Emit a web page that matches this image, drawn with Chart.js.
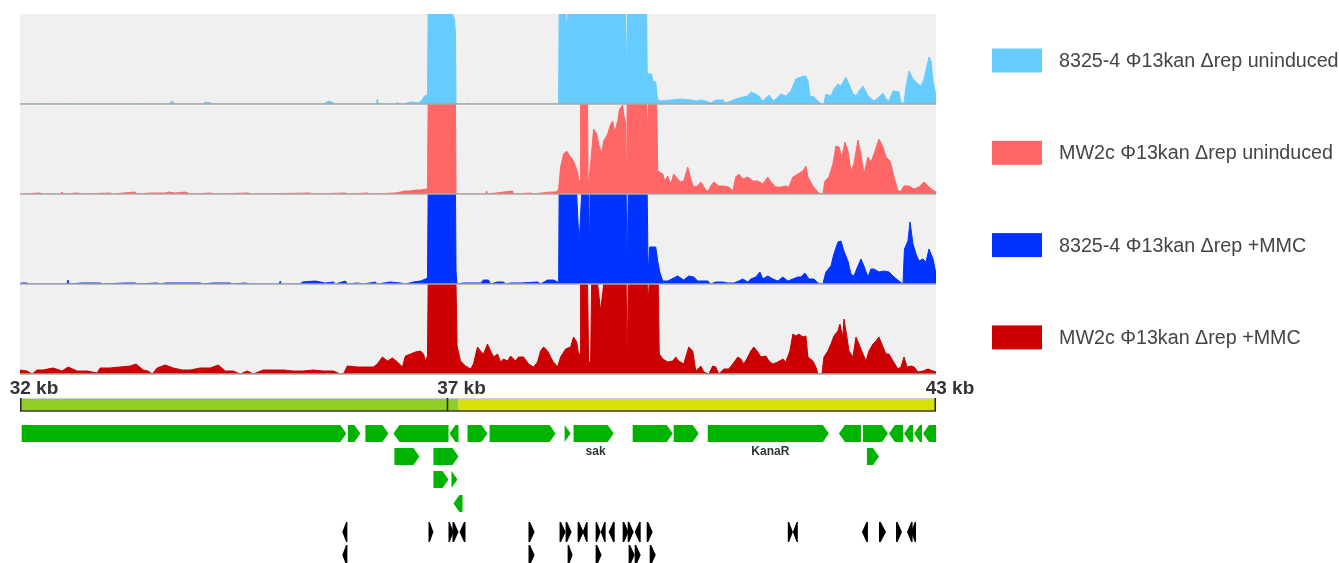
<!DOCTYPE html>
<html>
<head>
<meta charset="utf-8">
<title>Φ13kan Δrep read coverage, 32–43 kb</title>
<script src="https://cdn.jsdelivr.net/npm/chart.js@4.4.1/dist/chart.umd.min.js"></script>
<style>
  html, body { margin: 0; padding: 0; background: #ffffff; }
  #wrap { width: 1339px; height: 563px; }
</style>
</head>
<body>
<div id="wrap"><canvas id="chart" width="1339" height="563"></canvas></div>
<script>
// ---------- region shown (kb) ----------
const viewStartKb = 32;
const viewEndKb = 42.714;
const rulerTicksKb = [32, 37, 42.714];
const rulerSegmentsKb = [[32, 37.13], [37.13, 42.714]];
const rulerColors = ['#92cc26', '#d8e20a'];

// ---------- coverage tracks ----------
const trackLabels = [
  '8325-4 Φ13kan Δrep uninduced',
  'MW2c Φ13kan Δrep uninduced',
  '8325-4 Φ13kan Δrep +MMC',
  'MW2c Φ13kan Δrep +MMC'
];
const trackColors = ['#66ccff', '#ff6666', '#0033ff', '#cc0000'];
const trackMax = 90; // display ceiling of each track; deeper coverage is clipped

// 8325-4 uninduced
const t1Kb = [32.000, 32.281, 32.293, 32.304, 32.562, 32.574, 32.585, 33.358, 33.370, 33.382,
  33.756, 33.768, 33.792, 33.815, 34.143, 34.166, 34.225, 34.248, 35.560, 35.583,
  35.618, 35.665, 35.689, 36.169, 36.180, 36.192, 36.403, 36.415, 36.438, 36.497,
  36.520, 36.590, 36.660, 36.695, 36.731, 36.766, 36.774, 37.059, 37.082, 37.094,
  37.100, 37.222, 37.234, 37.246, 38.300, 38.306, 38.382, 38.393, 38.405, 39.084,
  39.096, 39.108, 39.330, 39.336, 39.389, 39.400, 39.436, 39.456, 39.494, 39.611,
  39.728, 39.845, 39.927, 39.963, 40.021, 40.080, 40.138, 40.220, 40.255, 40.314,
  40.372, 40.454, 40.513, 40.548, 40.607, 40.642, 40.689, 40.759, 40.817, 40.899,
  40.958, 41.016, 41.075, 41.133, 41.192, 41.216, 41.239, 41.286, 41.344, 41.380,
  41.403, 41.426, 41.485, 41.520, 41.567, 41.602, 41.660, 41.696, 41.743, 41.778,
  41.813, 41.860, 41.895, 41.930, 41.989, 42.047, 42.094, 42.129, 42.164, 42.211,
  42.281, 42.304, 42.340, 42.363, 42.398, 42.445, 42.504, 42.539, 42.574, 42.632,
  42.656, 42.679, 42.714];
const t1Cov = [0, 0, 1, 0, 0, 1, 0, 0, 1, 0,
  0, 3, 2, 0, 0, 2, 1, 0, 0, 2,
  3, 1, 0, 0, 5, 0, 0, 2, 0, 0,
  1, 2, 1, 3, 8, 9, 150, 150, 85, 70,
  0, 0, 1, 0, 0, 150, 150, 78, 150, 150,
  27, 150, 150, 30, 30, 23, 22, 5, 3, 4,
  5, 4, 3, 4, 3, 1, 4, 4, 1, 3,
  5, 7, 8, 12, 10, 8, 3, 9, 3, 10,
  8, 13, 25, 27, 28, 23, 8, 7, 2, 0,
  0, 10, 8, 15, 20, 18, 27, 20, 10, 8,
  13, 18, 12, 7, 3, 7, 11, 5, 3, 13,
  12, 1, 1, 17, 33, 25, 20, 18, 25, 47,
  43, 23, 8];

// MW2c uninduced
const t2Kb = [32.000, 32.234, 32.258, 32.468, 32.492, 32.515, 32.679, 32.703, 33.054, 33.077,
  33.347, 33.370, 33.522, 33.698, 33.733, 33.815, 33.932, 33.991, 34.225, 34.283,
  34.670, 34.693, 35.396, 35.419, 35.806, 35.829, 36.063, 36.087, 36.391, 36.450,
  36.497, 36.567, 36.625, 36.684, 36.743, 36.766, 36.774, 37.094, 37.100, 37.445,
  37.457, 37.468, 37.761, 37.773, 37.984, 37.995, 38.206, 38.276, 38.300, 38.323,
  38.358, 38.393, 38.440, 38.475, 38.522, 38.534, 38.552, 38.557, 38.639, 38.645,
  38.674, 38.709, 38.745, 38.768, 38.803, 38.827, 38.874, 38.909, 38.932, 38.956,
  38.991, 39.014, 39.049, 39.061, 39.084, 39.096, 39.102, 39.330, 39.342, 39.354,
  39.447, 39.459, 39.518, 39.541, 39.576, 39.611, 39.646, 39.693, 39.728, 39.764,
  39.810, 39.845, 39.880, 39.927, 39.963, 39.998, 40.044, 40.080, 40.115, 40.173,
  40.232, 40.290, 40.337, 40.372, 40.407, 40.454, 40.513, 40.571, 40.630, 40.689,
  40.747, 40.782, 40.841, 40.899, 40.958, 40.993, 41.040, 41.098, 41.157, 41.192,
  41.216, 41.274, 41.321, 41.356, 41.391, 41.415, 41.461, 41.508, 41.543, 41.578,
  41.614, 41.649, 41.684, 41.719, 41.754, 41.801, 41.836, 41.871, 41.918, 41.953,
  41.989, 42.047, 42.094, 42.129, 42.176, 42.223, 42.269, 42.304, 42.340, 42.398,
  42.457, 42.515, 42.574, 42.632, 42.691, 42.714];
const t2Cov = [0, 1, 0, 0, 2, 0, 1, 0, 1, 0,
  2, 0, 1, 1, 2, 1, 2, 0, 1, 0,
  1, 0, 1, 0, 1, 0, 1, 0, 1, 2,
  3, 3, 4, 4, 5, 5, 150, 150, 0, 0,
  3, 0, 3, 0, 1, 0, 2, 2, 5, 27,
  40, 43, 37, 33, 22, 13, 13, 150, 150, 7,
  30, 65, 60, 50, 40, 53, 60, 70, 73, 62,
  73, 85, 89, 80, 70, 0, 150, 150, 60, 150,
  150, 23, 20, 13, 18, 10, 20, 15, 12, 13,
  27, 15, 7, 8, 12, 7, 2, 8, 12, 8,
  8, 7, 3, 17, 20, 15, 17, 13, 13, 10,
  17, 12, 7, 7, 8, 7, 17, 20, 23, 28,
  17, 8, 3, 0, 0, 13, 17, 30, 48, 47,
  37, 52, 43, 23, 30, 54, 40, 20, 37, 32,
  40, 55, 47, 37, 33, 17, 3, 3, 8, 8,
  5, 7, 12, 7, 3, 2];

// 8325-4 +MMC
const t3Kb = [32.000, 32.012, 32.082, 32.094, 32.550, 32.562, 32.574, 32.726, 32.937, 32.960,
  33.230, 33.347, 33.370, 33.604, 33.639, 33.698, 34.108, 34.131, 34.260, 34.459,
  34.482, 34.635, 34.693, 35.033, 35.044, 35.056, 35.279, 35.302, 35.454, 35.571,
  35.665, 35.689, 35.806, 35.829, 35.946, 36.016, 36.157, 36.180, 36.333, 36.450,
  36.508, 36.602, 36.684, 36.743, 36.766, 36.774, 37.094, 37.100, 37.112, 37.187,
  37.386, 37.422, 37.480, 37.504, 37.585, 37.656, 37.679, 37.738, 37.820, 37.855,
  38.054, 38.089, 38.171, 38.241, 38.288, 38.300, 38.306, 38.511, 38.540, 38.569,
  38.651, 38.659, 38.667, 39.090, 39.102, 39.114, 39.336, 39.347, 39.365, 39.436,
  39.459, 39.483, 39.518, 39.576, 39.693, 39.764, 39.822, 39.880, 39.927, 39.963,
  40.044, 40.080, 40.138, 40.220, 40.279, 40.349, 40.407, 40.454, 40.513, 40.548,
  40.607, 40.654, 40.689, 40.747, 40.806, 40.864, 40.923, 40.981, 41.040, 41.098,
  41.133, 41.180, 41.227, 41.286, 41.333, 41.368, 41.391, 41.426, 41.485, 41.520,
  41.567, 41.602, 41.637, 41.684, 41.719, 41.754, 41.801, 41.836, 41.871, 41.918,
  41.953, 41.989, 42.047, 42.106, 42.164, 42.223, 42.281, 42.328, 42.345, 42.386,
  42.410, 42.445, 42.480, 42.515, 42.562, 42.597, 42.632, 42.679, 42.714];
const t3Cov = [0, 1, 1, 0, 0, 4, 0, 1, 1, 0,
  1, 1, 0, 1, 0, 1, 1, 0, 1, 1,
  0, 1, 0, 0, 3, 0, 0, 2, 3, 1,
  2, 0, 3, 0, 1, 0, 2, 0, 2, 1,
  0, 2, 3, 5, 6, 150, 150, 13, 0, 1,
  1, 4, 4, 0, 2, 2, 0, 1, 1, 1,
  2, 0, 4, 4, 2, 3, 150, 150, 40, 150,
  150, 55, 150, 150, 14, 150, 150, 10, 37, 37,
  23, 12, 3, 3, 8, 4, 8, 7, 3, 3,
  3, 0, 2, 2, 1, 1, 3, 5, 2, 5,
  7, 12, 5, 8, 5, 3, 7, 3, 5, 7,
  7, 11, 5, 5, 1, 0, 0, 12, 18, 30,
  42, 43, 33, 23, 10, 8, 18, 25, 18, 7,
  15, 15, 12, 13, 12, 7, 3, 0, 35, 43,
  62, 40, 30, 23, 25, 22, 35, 25, 10];

// MW2c +MMC
const t4Kb = [32.000, 32.082, 32.141, 32.199, 32.269, 32.386, 32.492, 32.562, 32.667, 32.785,
  32.902, 32.937, 33.054, 33.171, 33.288, 33.358, 33.440, 33.499, 33.546, 33.604,
  33.698, 33.792, 33.897, 33.991, 34.108, 34.225, 34.319, 34.400, 34.494, 34.576,
  34.658, 34.728, 34.845, 34.963, 35.080, 35.197, 35.314, 35.431, 35.548, 35.665,
  35.747, 35.782, 35.829, 35.946, 36.040, 36.133, 36.180, 36.239, 36.297, 36.356,
  36.415, 36.473, 36.508, 36.567, 36.625, 36.684, 36.719, 36.743, 36.766, 36.774,
  37.100, 37.112, 37.152, 37.211, 37.269, 37.304, 37.351, 37.386, 37.422, 37.468,
  37.504, 37.539, 37.585, 37.621, 37.656, 37.703, 37.738, 37.796, 37.831, 37.890,
  37.948, 38.007, 38.054, 38.089, 38.124, 38.171, 38.230, 38.288, 38.323, 38.382,
  38.440, 38.475, 38.511, 38.534, 38.552, 38.557, 38.639, 38.651, 38.674, 38.686,
  38.756, 38.792, 38.827, 39.090, 39.102, 39.114, 39.336, 39.347, 39.359, 39.465,
  39.477, 39.518, 39.576, 39.635, 39.670, 39.705, 39.764, 39.822, 39.869, 39.904,
  39.963, 39.998, 40.056, 40.103, 40.138, 40.173, 40.232, 40.290, 40.337, 40.396,
  40.431, 40.466, 40.513, 40.548, 40.583, 40.630, 40.665, 40.724, 40.759, 40.806,
  40.864, 40.923, 40.958, 41.005, 41.040, 41.075, 41.110, 41.157, 41.192, 41.216,
  41.274, 41.309, 41.333, 41.380, 41.403, 41.450, 41.485, 41.520, 41.567, 41.590,
  41.625, 41.637, 41.672, 41.696, 41.743, 41.778, 41.813, 41.860, 41.895, 41.930,
  41.977, 42.012, 42.047, 42.094, 42.129, 42.164, 42.211, 42.269, 42.304, 42.340,
  42.375, 42.422, 42.457, 42.504, 42.562, 42.621, 42.679, 42.714];
const t4Cov = [4, 3, 0, 4, 4, 6, 3, 7, 3, 3,
  1, 6, 6, 7, 8, 10, 4, 3, 0, 6,
  9, 6, 4, 4, 6, 6, 9, 3, 3, 0,
  3, 0, 4, 4, 4, 3, 3, 4, 3, 3,
  0, 0, 8, 7, 7, 7, 10, 17, 13, 16,
  12, 7, 18, 20, 22, 23, 20, 13, 18, 150,
  150, 28, 13, 8, 5, 10, 27, 23, 20, 30,
  23, 17, 20, 12, 15, 13, 18, 13, 17, 17,
  10, 7, 12, 23, 27, 23, 13, 7, 17, 25,
  27, 37, 32, 20, 20, 150, 150, 12, 12, 150,
  150, 63, 150, 150, 10, 150, 150, 72, 150, 150,
  20, 15, 12, 13, 17, 13, 10, 27, 23, 3,
  8, 2, 0, 8, 7, 0, 5, 5, 10, 17,
  15, 10, 17, 23, 27, 22, 17, 18, 13, 10,
  12, 15, 12, 23, 40, 38, 40, 37, 38, 17,
  13, 7, 0, 0, 17, 23, 30, 38, 43, 50,
  37, 55, 37, 23, 17, 37, 30, 20, 13, 23,
  30, 33, 37, 27, 20, 20, 13, 5, 7, 17,
  7, 8, 7, 2, 3, 5, 3, 2];

// ---------- gene annotations (kb) ----------
const geneStart = [32.020, 35.835, 36.040, 36.368, 37.023, 37.234, 37.492, 38.370, 38.475, 39.166,
  39.646, 40.044, 41.578, 41.860, 42.164, 42.340, 42.457, 42.562,
  36.379, 36.836, 41.906, 36.836, 37.047, 37.070];
const geneEnd = [35.817, 35.981, 36.309, 37.012, 37.129, 37.468, 38.265, 38.440, 38.944, 39.635,
  39.939, 41.461, 41.836, 42.152, 42.328, 42.445, 42.550, 42.714,
  36.672, 37.129, 42.047, 37.012, 37.117, 37.176];
const geneStrand = ['+', '+', '+', '-', '-', '+', '+', '+', '+', '+',
  '+', '+', '-', '+', '-', '-', '-', '-',
  '+', '+', '+', '+', '+', '-'];
const geneRow = [0, 0, 0, 0, 0, 0, 0, 0, 0, 0, 0, 0, 0, 0, 0, 0, 0, 0, 1, 1, 1, 2, 2, 3];
const geneName = ['', '', '', '', '', '', '', '', 'sak', '',
  '', 'KanaR', '', '', '', '', '', '',
  '', '', '', '', '', ''];

// ---------- short ORF features (kb) ----------
const orfStart = [35.770, 36.778, 37.012, 37.059, 37.141, 37.948, 38.311, 38.382, 38.522, 38.581,
  38.733, 38.792, 38.885, 39.049, 39.108, 39.190, 39.330, 40.981, 41.040, 41.848,
  42.047, 42.246, 42.375, 42.422,
  35.770, 37.948, 38.405, 38.733, 39.119, 39.190, 39.365];
const orfEnd = [35.829, 36.836, 37.070, 37.129, 37.211, 38.019, 38.382, 38.452, 38.593, 38.639,
  38.792, 38.850, 38.956, 39.119, 39.178, 39.260, 39.400, 41.040, 41.098, 41.918,
  42.129, 42.316, 42.440, 42.480,
  35.829, 38.019, 38.464, 38.803, 39.190, 39.260, 39.436];
const orfStrand = ['-', '+', '+', '+', '-', '+', '+', '+', '+', '-',
  '+', '-', '-', '+', '+', '-', '+', '+', '-', '-',
  '+', '+', '-', '-',
  '-', '+', '+', '+', '+', '+', '+'];
const orfRow = [0, 0, 0, 0, 0, 0, 0, 0, 0, 0, 0, 0, 0, 0, 0, 0, 0, 0, 0, 0, 0, 0, 0, 0,
  1, 1, 1, 1, 1, 1, 1];

// ---------- chart construction ----------
const FONT = "'Liberation Sans', Arial, Helvetica, sans-serif";
Chart.defaults.font.family = FONT;

const trackAxes = ['yT1', 'yT2', 'yT3', 'yT4'];
const trackKb = [t1Kb, t2Kb, t3Kb, t4Kb];
const trackCov = [t1Cov, t2Cov, t3Cov, t4Cov];

const datasets = trackLabels.map((label, i) => ({
  label,
  data: trackKb[i].map((x, j) => ({ x, y: Math.min(trackCov[i][j], trackMax) })),
  yAxisID: trackAxes[i],
  borderColor: trackColors[i],
  backgroundColor: trackColors[i],
  borderWidth: 1,
  fill: 'origin',
  pointRadius: 0,
  pointHoverRadius: 0,
  tension: 0
}));

const scales = {
  x: {
    type: 'linear',
    min: viewStartKb,
    max: viewEndKb,
    position: 'bottom',
    afterBuildTicks: s => { s.ticks = rulerTicksKb.map(v => ({ value: v })); },
    afterFit: s => { s.height = 26; s.paddingLeft = 0; s.paddingRight = 0; },
    grid: { display: false, drawTicks: false },
    border: { display: false },
    ticks: {
      autoSkip: false, maxRotation: 0, minRotation: 0,
      padding: 3, labelOffset: 14,
      color: '#333333',
      font: { family: FONT, size: 19, weight: 'bold' },
      callback: v => Math.round(v) + ' kb'
    }
  }
};
trackAxes.forEach((id, i) => {
  scales[id] = {
    type: 'linear', position: 'left', stack: 'tracks', stackWeight: 1,
    weight: trackAxes.length - i, min: 0, max: trackMax, display: false
  };
});

function arrowPath(ctx, x0, x1, top, h, strand, head) {
  const mid = top + h / 2, bot = top + h;
  const hl = Math.min(head, x1 - x0);
  ctx.beginPath();
  if (strand === '+') {
    ctx.moveTo(x0, top); ctx.lineTo(x1 - hl, top); ctx.lineTo(x1, mid);
    ctx.lineTo(x1 - hl, bot); ctx.lineTo(x0, bot);
  } else {
    ctx.moveTo(x1, top); ctx.lineTo(x0 + hl, top); ctx.lineTo(x0, mid);
    ctx.lineTo(x0 + hl, bot); ctx.lineTo(x1, bot);
  }
  ctx.closePath();
}

// grey panels behind each coverage track and their baselines
const panelPlugin = {
  id: 'panels',
  beforeDatasetsDraw(chart) {
    const { ctx, chartArea } = chart;
    ctx.save();
    ctx.fillStyle = '#f0f0f0';
    trackAxes.forEach(id => {
      const s = chart.scales[id];
      ctx.fillRect(chartArea.left, s.top, chartArea.right - chartArea.left, s.bottom - s.top);
    });
    ctx.restore();
  },
  afterDatasetsDraw(chart) {
    const { ctx, chartArea } = chart;
    ctx.save();
    ctx.strokeStyle = '#a8a8a8';
    ctx.lineWidth = 1.5;
    trackAxes.forEach(id => {
      const y = chart.scales[id].getPixelForValue(0);
      ctx.beginPath();
      ctx.moveTo(chartArea.left, y);
      ctx.lineTo(chartArea.right, y);
      ctx.stroke();
    });
    ctx.restore();
  }
};

// ruler bar, gene arrows, ORF marks and the legend
const annotationPlugin = {
  id: 'annotations',
  afterDraw(chart) {
    const { ctx } = chart;
    const xs = chart.scales.x;
    const px = v => xs.getPixelForValue(v);
    ctx.save();

    // ruler
    const rTop = 398, rH = 13;
    rulerSegmentsKb.forEach(([a, b], i) => {
      ctx.fillStyle = rulerColors[i];
      ctx.fillRect(px(a), rTop, px(b) - px(a), rH);
    });
    ctx.strokeStyle = '#cfcfcf';
    ctx.lineWidth = 1;
    ctx.beginPath(); ctx.moveTo(px(viewStartKb), rTop + 0.5); ctx.lineTo(px(viewEndKb), rTop + 0.5); ctx.stroke();
    ctx.strokeStyle = '#3a3a3a';
    ctx.lineWidth = 1.5;
    ctx.beginPath(); ctx.moveTo(px(viewStartKb), rTop + rH); ctx.lineTo(px(viewEndKb), rTop + rH); ctx.stroke();
    ctx.strokeStyle = '#222222';
    rulerTicksKb.forEach(v => {
      const x = Math.min(Math.max(px(v), px(viewStartKb) + 0.75), px(viewEndKb) - 0.75);
      ctx.beginPath(); ctx.moveTo(x, rTop); ctx.lineTo(x, rTop + rH); ctx.stroke();
    });

    // genes
    const geneRowTop = [425, 448, 471, 495];
    const geneH = 17;
    ctx.fillStyle = '#00b300';
    geneStart.forEach((s, i) => {
      arrowPath(ctx, px(s), px(geneEnd[i]), geneRowTop[geneRow[i]], geneH, geneStrand[i], 6);
      ctx.fill();
    });
    ctx.fillStyle = '#333333';
    ctx.font = 'bold 12px ' + FONT;
    ctx.textAlign = 'center';
    ctx.textBaseline = 'middle';
    geneName.forEach((n, i) => {
      if (!n) return;
      const cx = (px(geneStart[i]) + px(geneEnd[i])) / 2;
      ctx.fillText(n, cx + 2, geneRowTop[geneRow[i]] + geneH + 10);
    });

    // ORFs
    const orfRowTop = [522, 545];
    const orfH = 20;
    ctx.fillStyle = '#000000';
    orfStart.forEach((s, i) => {
      const x0 = px(s), x1 = px(orfEnd[i]);
      arrowPath(ctx, x0, x1, orfRowTop[orfRow[i]], orfH, orfStrand[i], (x1 - x0) * 0.75);
      ctx.fill();
    });

    // legend
    const legendX = 992, boxW = 50, boxH = 24, textX = 1059, firstY = 60.5, stepY = 92.3;
    ctx.textAlign = 'left';
    ctx.textBaseline = 'middle';
    ctx.font = '19.7px ' + FONT;
    chart.data.datasets.forEach((ds, i) => {
      const cy = firstY + i * stepY;
      ctx.fillStyle = ds.backgroundColor;
      ctx.fillRect(legendX, cy - boxH / 2, boxW, boxH);
      ctx.fillStyle = '#444444';
      ctx.fillText(ds.label, textX, cy + 1);
    });
    ctx.restore();
  }
};

new Chart(document.getElementById('chart'), {
  type: 'line',
  data: { datasets },
  options: {
    responsive: false,
    devicePixelRatio: 1,
    animation: false,
    events: [],
    layout: { padding: { left: 20, right: 403, top: 14, bottom: 163 } },
    scales,
    plugins: {
      legend: { display: false },
      tooltip: { enabled: false }
    }
  },
  plugins: [panelPlugin, annotationPlugin]
});
</script>
</body>
</html>
